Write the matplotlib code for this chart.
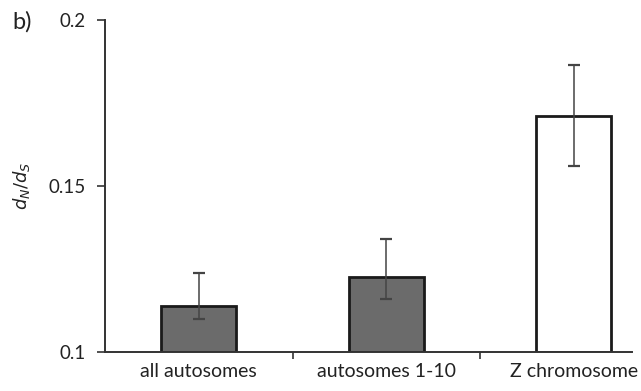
import matplotlib
matplotlib.use('Agg')
import matplotlib.pyplot as plt
from matplotlib.ticker import FixedLocator

plt.rcParams['font.family'] = ['Lato', 'DejaVu Sans']

categories = ['all autosomes', 'autosomes 1-10', 'Z chromosome']
values = [0.1139, 0.1227, 0.1712]
err_low = [0.1099, 0.1161, 0.1560]
err_high = [0.1239, 0.1340, 0.1864]
fills = ['#6b6b6b', '#6b6b6b', 'white']
y_ticks = [0.1, 0.15, 0.2]
y_labels = ['0.1', '0.15', '0.2']

fig = plt.figure(figsize=(6.41, 3.91), dpi=100)
ax = fig.add_axes([105 / 641, 1 - 352 / 391, 527 / 641, 332 / 391])

x = list(range(len(categories)))
lower = [v - lo for v, lo in zip(values, err_low)]
upper = [hi - v for v, hi in zip(values, err_high)]
base = 0.1
ax.bar(x, [v - base for v in values], bottom=base, width=0.4, color=fills,
       edgecolor='#1a1a1a', linewidth=2, zorder=2)
ax.errorbar(x, values, yerr=[lower, upper], fmt='none', ecolor='#444444',
            elinewidth=1.1, capsize=4, capthick=1.6, zorder=3)

ax.set_xlim(-0.5, 2.31)
ax.set_ylim(0.1, 0.2)
ax.set_yticks(y_ticks)
ax.set_yticklabels(y_labels)
ax.set_xticks(x)
ax.set_xticklabels(categories)
ax.tick_params(axis='x', which='major', length=0, pad=8)
ax.xaxis.set_minor_locator(FixedLocator([0.5, 1.5]))
ax.tick_params(axis='x', which='minor', length=5, width=1.2, color='#333333')
ax.tick_params(axis='y', length=6, width=1.2, color='#333333', pad=8)
ax.tick_params(axis='y', labelsize=13.5)
ax.tick_params(axis='x', labelsize=14)
ax.tick_params(labelcolor='#222222')

for s in ['top', 'right']:
    ax.spines[s].set_visible(False)
for s in ['left', 'bottom']:
    ax.spines[s].set_linewidth(1.4)
    ax.spines[s].set_color('#333333')

ax.set_ylabel(r'$d_N/d_S$', fontsize=13, color='#222222', labelpad=12)
fig.text(12 / 641, 1 - 22 / 391, 'b)', fontsize=17, va='center', ha='left', color='#222222')

fig.savefig('out.png', dpi=100)
